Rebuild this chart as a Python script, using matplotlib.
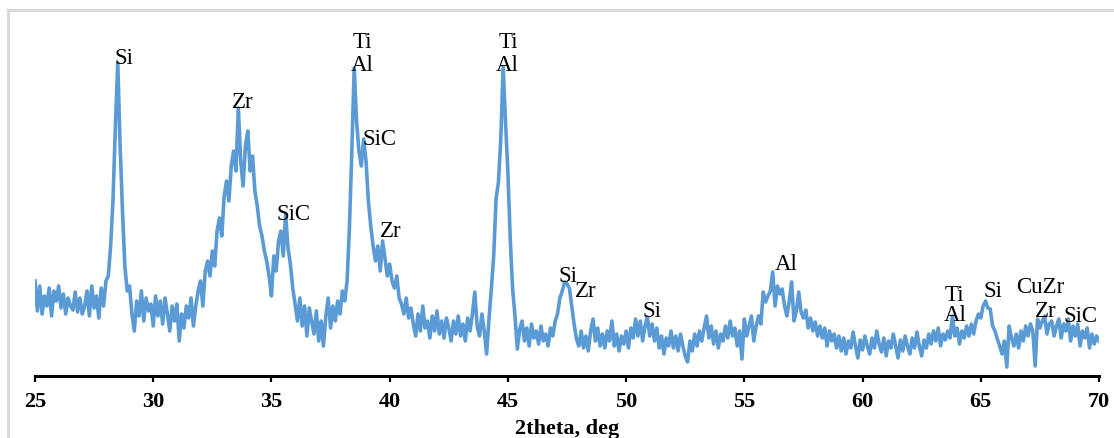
import numpy as np
import matplotlib
matplotlib.use("Agg")
import matplotlib.pyplot as plt
from matplotlib.lines import Line2D

plt.rcParams['font.family'] = ['Liberation Serif', 'DejaVu Serif']

# 2theta grid (0.1 deg step) and intensity (arb. units)
two_theta_start = 25.0
two_theta_step = 0.1
intensity = [
    95, 65, 90, 62, 80, 70, 88, 60, 85, 75,        # 25
    90, 68, 82, 62, 78, 70, 66, 84, 64, 78,        # 26
    62, 70, 85, 60, 90, 68, 80, 58, 88, 70,        # 27
    95, 100, 130, 177, 250, 313, 230, 165, 110, 85,  # 28
    90, 62, 45, 75, 60, 85, 55, 78, 65, 72,        # 29
    50, 80, 60, 75, 52, 78, 62, 45, 70, 55,        # 30
    72, 35, 62, 48, 70, 58, 78, 50, 70, 85,        # 31
    95, 70, 105, 115, 100, 125, 110, 145, 158, 140,  # 32
    180, 195, 175, 210, 225, 205, 268, 215, 190, 230,  # 33
    245, 205, 220, 185, 170, 150, 140, 125, 115, 100,  # 34
    80, 120, 105, 135, 145, 120, 162, 128, 112, 88,  # 35
    72, 55, 78, 50, 70, 40, 68, 55, 42, 65,        # 36
    35, 55, 30, 60, 78, 48, 70, 55, 75, 62,        # 37
    85, 75, 95, 150, 225, 308, 255, 225, 210, 237,  # 38
    215, 175, 150, 130, 115, 130, 105, 135, 118, 100,  # 39
    112, 95, 88, 100, 78, 72, 62, 78, 58, 68,      # 40
    52, 40, 62, 45, 70, 48, 55, 38, 60, 45,        # 41
    65, 42, 55, 38, 58, 48, 35, 55, 42, 60,        # 42
    40, 52, 35, 58, 45, 62, 84, 50, 40, 62,        # 43
    45, 22, 57, 87, 120, 177, 194, 237, 309, 254,  # 44
    204, 137, 87, 60, 27, 47, 55, 35, 48, 30,      # 45
    52, 38, 45, 32, 50, 35, 42, 30, 48, 40,        # 46
    55, 62, 78, 85, 94, 92, 88, 70, 52, 37,        # 47
    30, 45, 28, 40, 25, 45, 57, 35, 48, 30,        # 48
    42, 28, 45, 35, 55, 30, 42, 25, 40, 32,        # 49
    45, 28, 48, 38, 57, 40, 55, 35, 50, 59,        # 50
    40, 52, 35, 48, 28, 40, 22, 38, 30, 45,        # 51
    28, 40, 25, 42, 30, 20, 14, 35, 25, 42,        # 52
    30, 45, 35, 48, 60, 38, 50, 32, 45, 28,        # 53
    42, 35, 50, 38, 55, 40, 48, 30, 45, 17,        # 54
    57, 40, 50, 60, 35, 50, 60, 52, 84, 74,        # 55
    80, 85, 104, 70, 90, 82, 87, 70, 60, 75,       # 56
    94, 55, 65, 84, 64, 58, 66, 48, 58, 45,        # 57
    54, 40, 50, 38, 48, 30, 45, 35, 42, 28,        # 58
    40, 25, 38, 22, 35, 28, 44, 30, 18, 36,        # 59
    26, 40, 30, 22, 38, 28, 45, 32, 24, 38,        # 60
    20, 35, 28, 42, 30, 18, 36, 25, 40, 30,        # 61
    22, 38, 28, 44, 30, 20, 36, 28, 42, 32,        # 62
    45, 35, 48, 30, 42, 36, 45, 38, 60, 40,        # 63
    48, 32, 45, 38, 50, 40, 52, 42, 55, 62,        # 64
    58, 70, 75, 68, 67, 50, 45, 37, 30, 22,        # 65
    35, 9, 50, 38, 30, 42, 28, 45, 35, 50,         # 66
    40, 52, 45, 10, 57, 48, 55, 60, 42, 52,        # 67
    55, 40, 50, 57, 38, 52, 45, 57, 35, 50,        # 68
    40, 52, 30, 45, 38, 48, 28, 42, 32, 40,        # 69
    35,                                            # 70
]
two_theta = two_theta_start + two_theta_step * np.arange(len(intensity))

# peak labels: text, 2theta (centre), intensity level of text baseline
label_texts = ["Si", "Zr", "SiC", "Ti", "Al", "SiC", "Zr", "Ti", "Al",
               "Si", "Zr", "Si", "Al", "Ti", "Al", "Si", "CuZr", "Zr", "SiC"]
label_x = [28.76, 33.8, 35.95, 38.83, 38.83, 39.55, 40.06, 45.0, 44.96,
           47.54, 48.3, 51.1, 56.76, 63.9, 63.9, 65.5, 67.5, 67.75, 69.2]
label_y = [313, 269, 157, 329, 306, 232, 140, 329, 306,
           95, 80, 60, 107, 76, 56, 80, 84, 60, 55]

xticks = [25, 30, 35, 40, 45, 50, 55, 60, 65, 70]

W, H = 1114, 439
fig = plt.figure(figsize=(W / 100, H / 100), dpi=100)
ax = fig.add_axes([35 / W, (H - 377) / H, 1064 / W, 357 / H])

ax.plot(two_theta, intensity, color='#5B9BD5', lw=2.6, solid_joinstyle='round')

for t, x, y in zip(label_texts, label_x, label_y):
    ax.text(x, y, t, ha='center', va='baseline', fontsize=16.5, color='black')

ax.set_xlim(25, 70)
ax.set_ylim(0, 357)
ax.set_xticks(xticks)
ax.set_xticklabels([str(v) for v in xticks], fontsize=16, fontweight='bold')
ax.set_yticks([])
for s in ['top', 'right', 'left']:
    ax.spines[s].set_visible(False)
ax.spines['bottom'].set_linewidth(2.2)
ax.tick_params(axis='x', direction='out', length=4.5, width=1.6, pad=6)

fig.text(567 / W, 5 / H, "2theta, deg", ha='center', va='baseline',
         fontsize=16, fontweight='bold')

# outer chart border (light grey)
fig.add_artist(Line2D([8 / W, 8 / W], [0, (H - 11) / H], color='#D9D9D9', lw=2.2,
                      transform=fig.transFigure))
fig.add_artist(Line2D([8 / W, 1], [(H - 11) / H, (H - 11) / H], color='#D9D9D9', lw=2.2,
                      transform=fig.transFigure))

fig.savefig("out.png", dpi=100)
